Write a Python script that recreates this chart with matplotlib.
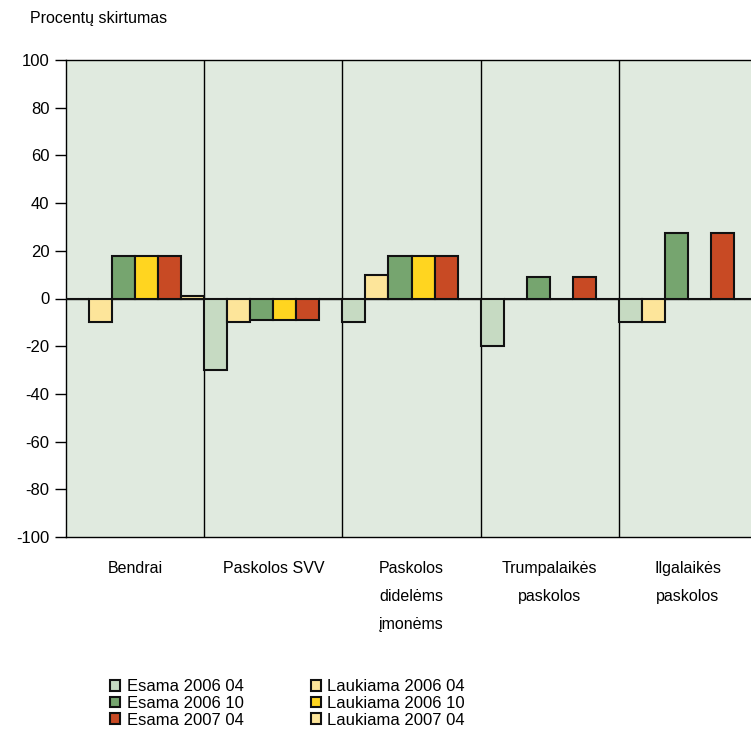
import numpy as np
import matplotlib
matplotlib.use("Agg")
import matplotlib.pyplot as plt

plt.rcParams["font.family"] = ["Liberation Sans", "DejaVu Sans"]

categories = ["Bendrai", "Paskolos SVV", "Paskolos\ndidelėms\nįmonėms",
              "Trumpalaikės\npaskolos", "Ilgalaikės\npaskolos"]
series = ["Esama 2006 04", "Laukiama 2006 04", "Esama 2006 10",
          "Laukiama 2006 10", "Esama 2007 04", "Laukiama 2007 04"]
esama_2006_04 = [0, -30, -10, -20, -10]
laukiama_2006_04 = [-10, -10, 10, 0, -10]
esama_2006_10 = [18, -9, 18, 9, 27.5]
laukiama_2006_10 = [18, -9, 18, 0, 0]
esama_2007_04 = [18, -9, 18, 9, 27.5]
laukiama_2007_04 = [1, 0, 0, 0, 0]
values = [esama_2006_04, laukiama_2006_04, esama_2006_10,
          laukiama_2006_10, esama_2007_04, laukiama_2007_04]
colors = ["#c6dac2", "#fde59a", "#76a56f", "#ffd520", "#c84a24", "#fde59a"]
yticks = list(range(-100, 101, 20))

fig = plt.figure(figsize=(7.51, 7.31), dpi=100)
# plot area runs a little past the right edge of the image
ax = fig.add_axes([66 / 751, 1 - 537 / 731, 691 / 751, 477 / 731])
ax.set_facecolor("#e0eadf")

n = len(series)
w = 1.0 / n
x = np.arange(len(categories))
bars = []
for j, (vals, col) in enumerate(zip(values, colors)):
    b = ax.bar(x - 0.5 + w * (j + 0.5), vals, width=w, color=col,
               edgecolor="#111111", linewidth=1.5, zorder=3, label=series[j])
    bars.append(b)

for i in range(len(categories) - 1):
    ax.axvline(i + 0.5, color="black", lw=1, zorder=1)
ax.axhline(0, color="#333333", lw=1, zorder=2)

ax.set_xlim(-0.5, len(categories) - 0.5)
ax.set_ylim(-100, 100)
ax.set_yticks(yticks)
ax.set_yticklabels([str(t) for t in yticks], fontsize=12)
ax.tick_params(axis="y", direction="out", length=8, width=1, pad=4)
ax.set_xticks(x)
ax.set_xticklabels(categories, fontsize=11.5, linespacing=2.1)
ax.tick_params(axis="x", length=0, pad=17)
for s in ["left", "top", "bottom"]:
    ax.spines[s].set_color("black")
    ax.spines[s].set_linewidth(1)
ax.spines["right"].set_visible(False)

fig.text(30 / 751, 1 - 18 / 731, "Procentų skirtumas", fontsize=11.5,
         ha="left", va="center")

order = [0, 2, 4, 1, 3, 5]
fig.legend([bars[k] for k in order], [series[k] for k in order],
           loc="upper left", bbox_to_anchor=(102 / 751, 1 - 671 / 731),
           ncol=2, frameon=False, fontsize=12, borderpad=0,
           handlelength=0.6, handleheight=0.6, handletextpad=0.4,
           labelspacing=0.1, columnspacing=4.0)

fig.savefig("out.png", dpi=100)
